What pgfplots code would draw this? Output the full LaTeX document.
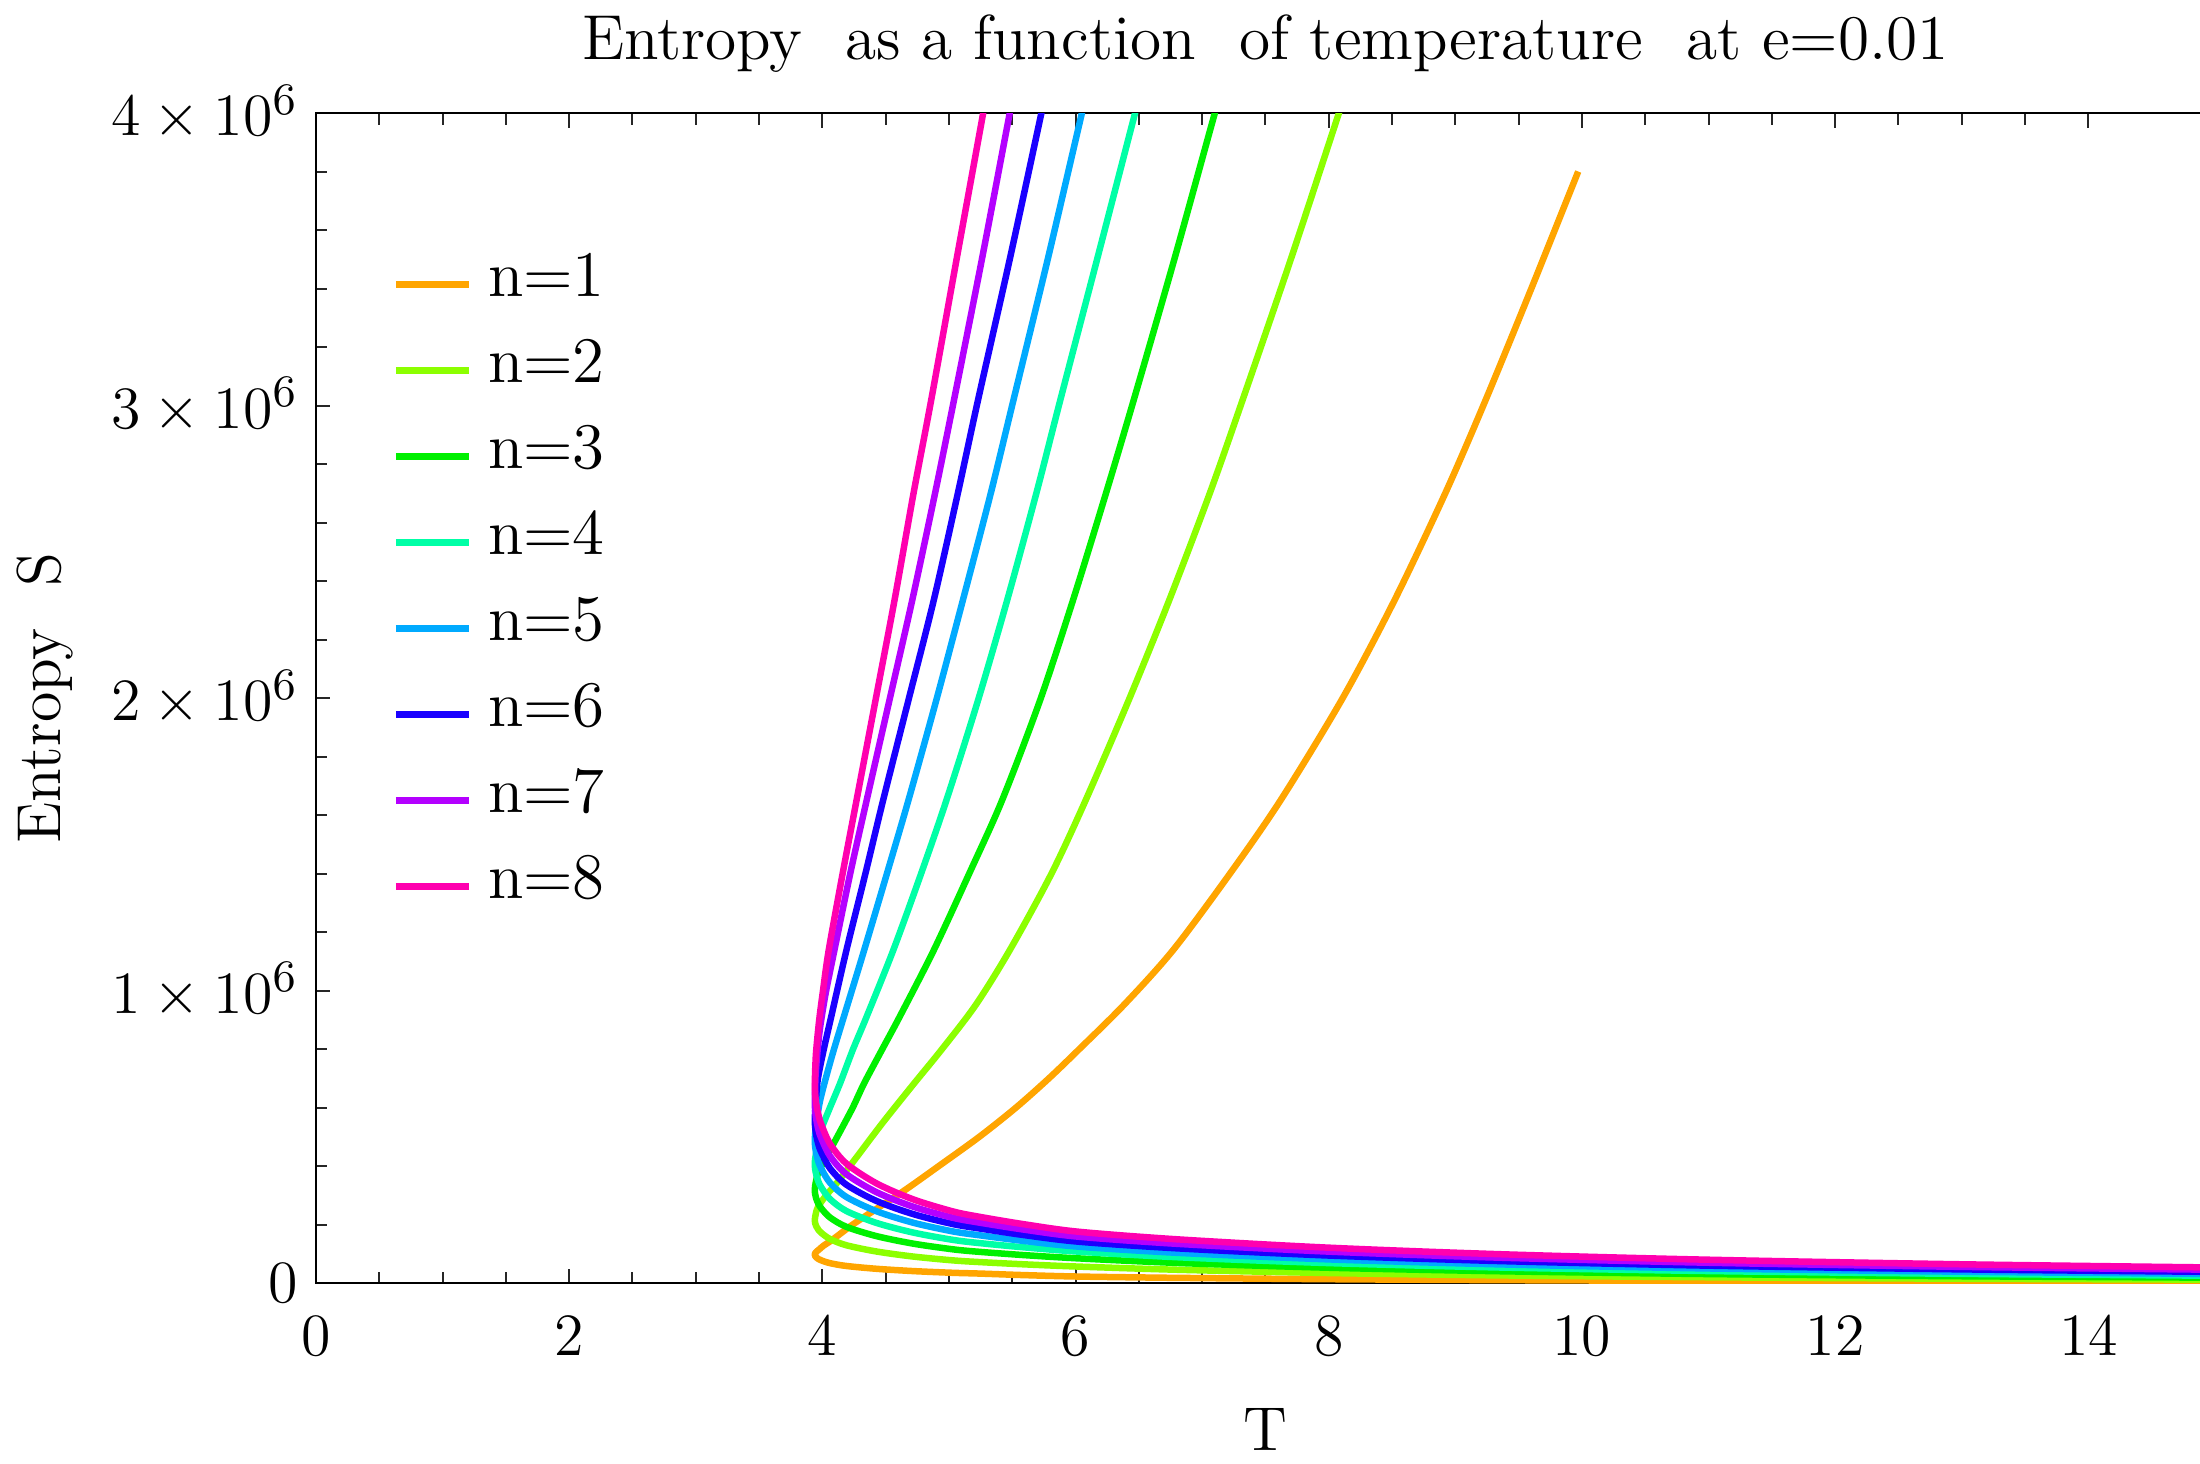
\documentclass[border=0pt]{standalone}
\usepackage{pgfplots}
\pgfplotsset{compat=1.18}
\definecolor{c1}{RGB}{255,165,0}
\definecolor{c2}{RGB}{140,255,0}
\definecolor{c3}{RGB}{0,240,0}
\definecolor{c4}{RGB}{0,255,166}
\definecolor{c5}{RGB}{0,170,255}
\definecolor{c6}{RGB}{26,0,255}
\definecolor{c7}{RGB}{180,0,255}
\definecolor{c8}{RGB}{255,0,175}
\begin{document}
\begin{tikzpicture}
\begin{axis}[
  name=ax,
  scale only axis,
  width=379.8pt, height=234pt,
  xmin=0, xmax=15, ymin=0, ymax=4,
  xtick={0,2,...,14},
  ytick={0,1,2,3,4},
  yticklabels={$0$,$1\times10^{6}$,$2\times10^{6}$,$3\times10^{6}$,$4\times10^{6}$},
  minor x tick num=3,
  minor y tick num=4,
  tick align=inside,
  major tick length=2.9pt,
  minor tick length=2.3pt,
  every tick/.style={black!85, line width=0.4pt},
  axis line style={line width=0.5pt},
  tick label style={font=\fontsize{12.4}{14}\selectfont},
  xticklabel style={yshift=-3.2pt},
  every axis title/.style={at={(axis description cs:0.5,1.046)}, anchor=base, font=\fontsize{12.7}{15}\selectfont},
  title={Entropy\hspace{0.35em} as a function\hspace{0.35em} of temperature\hspace{0.35em} at e=0.01},
  xlabel={T},
  ylabel={Entropy\hspace{0.35em} S},
  every axis x label/.style={at={(axis description cs:0.5,-0.125)}, anchor=center, font=\fontsize{12.4}{14}\selectfont},
  every axis y label/.style={at={(axis description cs:-0.1427,0.5)}, anchor=center, rotate=90, font=\fontsize{12.4}{14}\selectfont},
  legend style={at={(axis description cs:0.0398,0.891)}, anchor=north west, draw=none, fill=none,
    inner sep=0pt, row sep=0pt, column sep=3.2pt, font=\fontsize{13}{15}\selectfont,
    nodes={inner sep=0pt, text height=11pt, text depth=6.2pt}},
  legend cell align=left,
  legend image code/.code={\draw[#1] (0pt,0pt) -- (14.6pt,0pt);},
  every axis plot/.append style={line width=1.3pt, line join=round, smooth, tension=0.5},
]
\addplot[c1] coordinates {
(15,0.0041) (13,0.0053) (11,0.0072) (9.35,0.0098) (8,0.0130) (6.82,0.0175) (6.03,0.022) (5.6,0.0269) (5.24,0.0323) (5.03,0.0349) (4.72,0.0407) (4.43,0.0485) (4.19,0.0582) (4.06,0.0679) (3.99,0.0776) (3.967,0.0825) (3.952,0.0873) (3.943,0.0922) (3.94,0.097)
(3.943,0.102) (3.955,0.108) (3.975,0.115) (4.01,0.128) (4.06,0.142) (4.11,0.158) (4.24,0.2) (4.45,0.26) (4.66,0.32) (4.92,0.4) (5.24,0.5) (5.53,0.6) (5.79,0.7) (6.03,0.8) (6.38,0.95) (6.77,1.138) (7.22,1.4) (7.62,1.651) (8.11,2.0) (8.52,2.335) (8.92,2.7) (9.24,3.02) (9.60,3.4) (9.97,3.8)
};
\addlegendentry{n=1}
\addplot[c2] coordinates {
(15,0.0114) (13,0.0146) (11,0.0196) (9.35,0.0260) (8,0.0341) (6.82,0.0451) (6.03,0.056) (5.6,0.0637) (5.24,0.0716) (5.03,0.0774) (4.72,0.0903) (4.43,0.1075) (4.19,0.129) (4.06,0.1505) (3.99,0.172) (3.967,0.183) (3.952,0.1935) (3.943,0.204) (3.94,0.215)
(3.947,0.235) (3.965,0.26) (4.03,0.30) (4.13,0.35) (4.27,0.43) (4.48,0.55) (4.72,0.68) (4.94,0.797) (5.21,0.95) (5.48,1.138) (5.81,1.4) (6.08,1.651) (6.42,1.993) (6.74,2.335) (7.06,2.7) (7.32,3.02) (7.70,3.5) (8.08,4.0) (8.23,4.2)
};
\addlegendentry{n=2}
\addplot[c3] coordinates {
(15,0.0182) (13,0.0231) (11,0.0306) (9.35,0.0402) (8,0.0522) (6.82,0.0683) (6.03,0.084) (5.6,0.0952) (5.24,0.1066) (5.03,0.1152) (4.72,0.1344) (4.43,0.16) (4.19,0.192) (4.06,0.224) (3.99,0.256) (3.967,0.272) (3.952,0.288) (3.943,0.304) (3.94,0.32)
(3.948,0.345) (3.97,0.38) (4.03,0.43) (4.13,0.51) (4.24,0.6) (4.33,0.683) (4.47,0.797) (4.61,0.91) (4.88,1.138) (5.16,1.4) (5.42,1.651) (5.72,1.993) (5.98,2.335) (6.24,2.7) (6.46,3.02) (6.78,3.5) (7.10,4.0) (7.23,4.2)
};
\addlegendentry{n=3}
\addplot[c4] coordinates {
(15,0.0249) (13,0.0313) (11,0.0409) (9.35,0.0530) (8,0.0681) (6.82,0.0878) (6.03,0.107) (5.6,0.1216) (5.24,0.1365) (5.03,0.1476) (4.72,0.1722) (4.43,0.205) (4.19,0.246) (4.06,0.287) (3.99,0.328) (3.967,0.3485) (3.952,0.369) (3.943,0.3895) (3.94,0.41)
(3.948,0.44) (3.965,0.48) (3.995,0.53) (4.06,0.6) (4.14,0.683) (4.24,0.797) (4.35,0.911) (4.56,1.138) (4.78,1.4) (4.98,1.651) (5.23,1.993) (5.46,2.335) (5.69,2.7) (5.88,3.02) (6.17,3.5) (6.47,4.0) (6.59,4.2)
};
\addlegendentry{n=4}
\addplot[c5] coordinates {
(15,0.0310) (13,0.0386) (11,0.0497) (9.35,0.0637) (8,0.0807) (6.82,0.1028) (6.03,0.124) (5.6,0.1433) (5.24,0.1632) (5.03,0.1764) (4.72,0.2058) (4.43,0.245) (4.19,0.294) (4.06,0.343) (3.99,0.392) (3.967,0.4165) (3.952,0.441) (3.943,0.4655) (3.94,0.49)
(3.95,0.54) (3.98,0.62) (4.03,0.705) (4.09,0.797) (4.17,0.911) (4.33,1.138) (4.51,1.4) (4.68,1.651) (4.90,1.993) (5.11,2.335) (5.33,2.7) (5.51,3.02) (5.78,3.5) (6.05,4.0) (6.16,4.2)
};
\addlegendentry{n=5}
\addplot[c6] coordinates {
(15,0.0380) (13,0.0466) (11,0.0593) (9.35,0.0750) (8,0.0939) (6.82,0.1181) (6.03,0.141) (5.6,0.1634) (5.24,0.1865) (5.03,0.2016) (4.72,0.2352) (4.43,0.28) (4.19,0.336) (4.06,0.392) (3.99,0.448) (3.967,0.476) (3.952,0.504) (3.943,0.532) (3.94,0.56)
(3.948,0.62) (3.965,0.7) (4.01,0.797) (4.07,0.911) (4.19,1.138) (4.34,1.4) (4.48,1.651) (4.68,1.993) (4.88,2.335) (5.07,2.7) (5.23,3.02) (5.48,3.5) (5.73,4.0) (5.83,4.2)
};
\addlegendentry{n=6}
\addplot[c7] coordinates {
(15,0.0453) (13,0.0552) (11,0.0693) (9.35,0.0866) (8,0.1073) (6.82,0.1335) (6.03,0.158) (5.6,0.182) (5.24,0.2065) (5.03,0.2232) (4.72,0.2604) (4.43,0.31) (4.19,0.372) (4.06,0.434) (3.99,0.496) (3.967,0.527) (3.952,0.558) (3.943,0.589) (3.94,0.62)
(3.945,0.7) (3.955,0.76) (3.975,0.85) (3.995,0.911) (4.03,1.0) (4.095,1.138) (4.22,1.4) (4.35,1.651) (4.53,1.993) (4.71,2.335) (4.89,2.7) (5.04,3.02) (5.26,3.5) (5.48,4.0) (5.57,4.2)
};
\addlegendentry{n=7}
\addplot[c8] coordinates {
(15,0.0530) (13,0.0640) (11,0.0796) (9.35,0.0985) (8,0.1208) (6.82,0.1489) (6.03,0.175) (5.6,0.2004) (5.24,0.2264) (5.03,0.2448) (4.72,0.2856) (4.43,0.34) (4.19,0.408) (4.06,0.476) (3.99,0.544) (3.967,0.578) (3.952,0.612) (3.943,0.646) (3.94,0.68)
(3.945,0.75) (3.952,0.8) (3.975,0.9) (4.005,1.0) (4.05,1.138) (4.16,1.4) (4.27,1.651) (4.42,1.993) (4.57,2.335) (4.72,2.7) (4.86,3.02) (5.06,3.5) (5.27,4.0) (5.35,4.2)
};
\addlegendentry{n=8}
\end{axis}
\pgfresetboundingbox
\path[use as bounding box] ([xshift=-63.2pt,yshift=-36pt]ax.south west) rectangle ([xshift=376.8pt,yshift=256.6pt]ax.south west);
\end{tikzpicture}
\end{document}
